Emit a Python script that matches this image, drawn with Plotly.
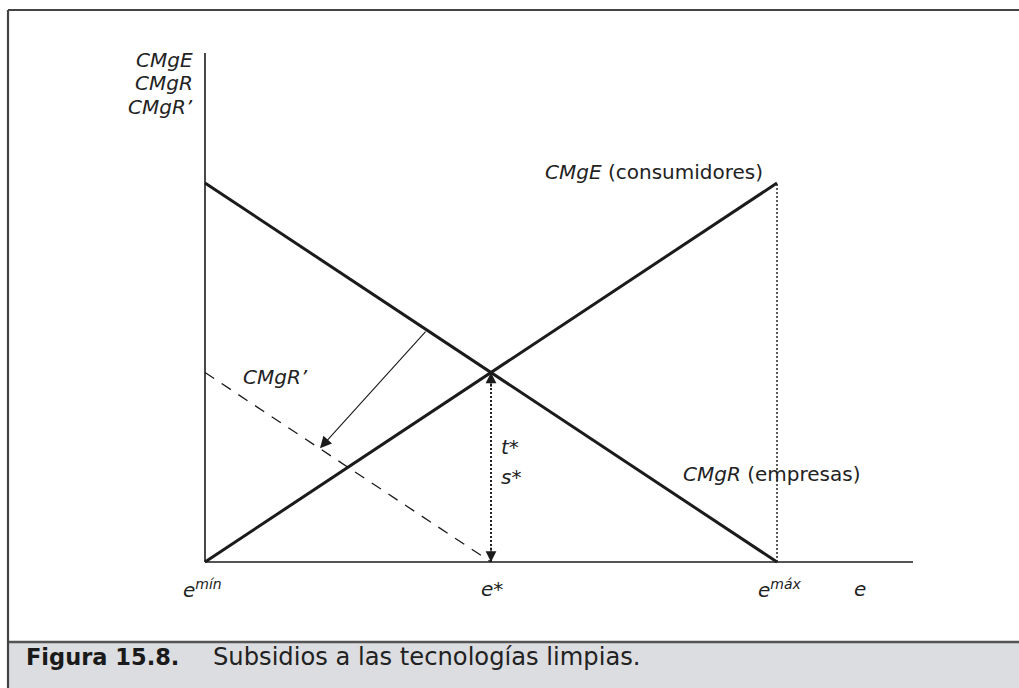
import plotly.graph_objects as go

# ---- data (normalised units: e from e_min=0 to e_max=1; marginal cost 0..1) ----
e_points = [0.0, 0.5, 1.0]          # e_min, e*, e_max
cmge_x = [0.0, 1.0]
cmge_y = [0.0, 1.0]                 # CMgE (consumidores)
cmgr_x = [0.0, 1.0]
cmgr_y = [1.0, 0.0]                 # CMgR (empresas)
cmgrp_x = [0.0, 0.5]
cmgrp_y = [0.5, 0.0]                # CMgR' (after subsidy)
shift_from = (0.388, 0.612)         # arrow from CMgR ...
shift_to = (0.201, 0.30)            # ... to CMgR'
x_tick_text = ["e<sup>mín</sup>", "e*", "e<sup>máx</sup>"]
y_title_lines = ["CMgE", "CMgR", "CMgR’"]

W, H = 1019, 688
# pixel mapping of data frame
X0, X1 = 205, 777     # px for e=0 and e=1
Y0, Y1 = 562, 183     # px for value 0 and 1
sx = X1 - X0
sy = Y0 - Y1
xr = [(0 - X0) / sx, (W - X0) / sx]
yr = [(Y0 - H) / sy, Y0 / sy]

def px(x):
    return x / W

def py(y):
    return 1 - y / H

INK = "#1b1b1b"
FONT = "DejaVu Sans, Liberation Sans, Arial, sans-serif"

fig = go.Figure()

# axes drawn as lines
fig.add_trace(go.Scatter(x=[0, 0], y=[0, (Y0 - 53) / sy], mode="lines",
                         line=dict(color=INK, width=1.6), hoverinfo="skip"))
fig.add_trace(go.Scatter(x=[0, (913 - X0) / sx], y=[0, 0], mode="lines",
                         line=dict(color=INK, width=1.6), hoverinfo="skip"))

# dotted verticals
fig.add_trace(go.Scatter(x=[e_points[2], e_points[2]], y=[0, cmge_y[1]], mode="lines",
                         line=dict(color="#333", width=1.6, dash="2px,2px"), hoverinfo="skip"))
fig.add_trace(go.Scatter(x=[e_points[1], e_points[1]], y=[0.0, 0.5], mode="lines",
                         line=dict(color="#222", width=2, dash="2px,2px"), hoverinfo="skip"))

# dashed CMgR'
fig.add_trace(go.Scatter(x=cmgrp_x, y=cmgrp_y, mode="lines",
                         line=dict(color=INK, width=1.3, dash="11px,9px"), hoverinfo="skip"))

# main curves
fig.add_trace(go.Scatter(x=cmge_x, y=cmge_y, mode="lines",
                         line=dict(color=INK, width=3), hoverinfo="skip"))
fig.add_trace(go.Scatter(x=cmgr_x, y=cmgr_y, mode="lines",
                         line=dict(color=INK, width=3), hoverinfo="skip"))

ann = []
# shift arrow
ann.append(dict(x=shift_to[0], y=shift_to[1], ax=shift_from[0], ay=shift_from[1],
                xref="x", yref="y", axref="x", ayref="y", text="", showarrow=True,
                arrowhead=2, arrowsize=2.1, arrowwidth=1.1, arrowcolor=INK))
# double arrow heads on dotted line
ann.append(dict(x=e_points[1], y=0.5, ax=0, ay=16, xref="x", yref="y", text="",
                showarrow=True, arrowhead=2, arrowsize=1.8, arrowwidth=1.2, arrowcolor=INK))
ann.append(dict(x=e_points[1], y=0.0, ax=0, ay=-16, xref="x", yref="y", text="",
                showarrow=True, arrowhead=2, arrowsize=1.8, arrowwidth=1.2, arrowcolor=INK))

lab = dict(family=FONT, size=20, color="#222")

def text(x, y, s, xanchor="center", size=20, **kw):
    f = dict(lab)
    f["size"] = size
    ann.append(dict(x=px(x), y=py(y), xref="paper", yref="paper", text=s, showarrow=False,
                    xanchor=xanchor, yanchor="middle", font=f, **kw))

# y-axis title lines
for i, s in enumerate(y_title_lines):
    text(195, 60 + i * 23.5, "<i>" + s + "</i>", xanchor="right")

# x labels
text(181, 589, "<i>" + x_tick_text[0] + "</i>", xanchor="left")
text(492, 589, "<i>" + x_tick_text[1] + "</i>")
text(756, 589, "<i>" + x_tick_text[2] + "</i>", xanchor="left")
text(860, 589, "<i>e</i>")

# curve labels
text(765, 172, "<i>CMgE</i> (consumidores)", xanchor="right")
text(681, 474, "<i>CMgR</i> (empresas)", xanchor="left")
text(241, 377, "<i>CMgR’</i>", xanchor="left")
text(499, 447, "<i>t*</i>", xanchor="left")
text(499, 477, "<i>s*</i>", xanchor="left")

# caption
ann.append(dict(x=px(24), y=py(657), xref="paper", yref="paper", text="<b>Figura 15.8.</b>",
                showarrow=False, xanchor="left", yanchor="middle",
                font=dict(family=FONT, size=22.5, color="#1a1a1a")))
ann.append(dict(x=px(211), y=py(657), xref="paper", yref="paper",
                text="Subsidios a las tecnologías limpias.",
                showarrow=False, xanchor="left", yanchor="middle",
                font=dict(family=FONT, size=24.2, color="#222")))

shapes = [
    # caption band
    dict(type="rect", xref="paper", yref="paper", x0=px(8), x1=1.01, y0=-0.01, y1=py(642),
         fillcolor="#dcdde0", line=dict(width=0), layer="below"),
    dict(type="line", xref="paper", yref="paper", x0=px(8), x1=1.01, y0=py(642), y1=py(642),
         line=dict(color="#555", width=2.5)),
    # frame top and left
    dict(type="line", xref="paper", yref="paper", x0=px(8), x1=1.01, y0=py(10), y1=py(10),
         line=dict(color="#444", width=2.2)),
    dict(type="line", xref="paper", yref="paper", x0=px(8), x1=px(8), y0=py(10), y1=-0.01,
         line=dict(color="#444", width=2.2)),
]

fig.update_layout(
    width=W, height=H,
    margin=dict(l=0, r=0, t=0, b=0),
    paper_bgcolor="white", plot_bgcolor="white",
    showlegend=False,
    xaxis=dict(range=xr, visible=False, fixedrange=True),
    yaxis=dict(range=yr, visible=False, fixedrange=True),
    annotations=ann,
    shapes=shapes,
)

fig.write_html("out.html", config={"displayModeBar": False},
               post_script="document.body.style.margin='0px';document.body.style.overflow='hidden';")
